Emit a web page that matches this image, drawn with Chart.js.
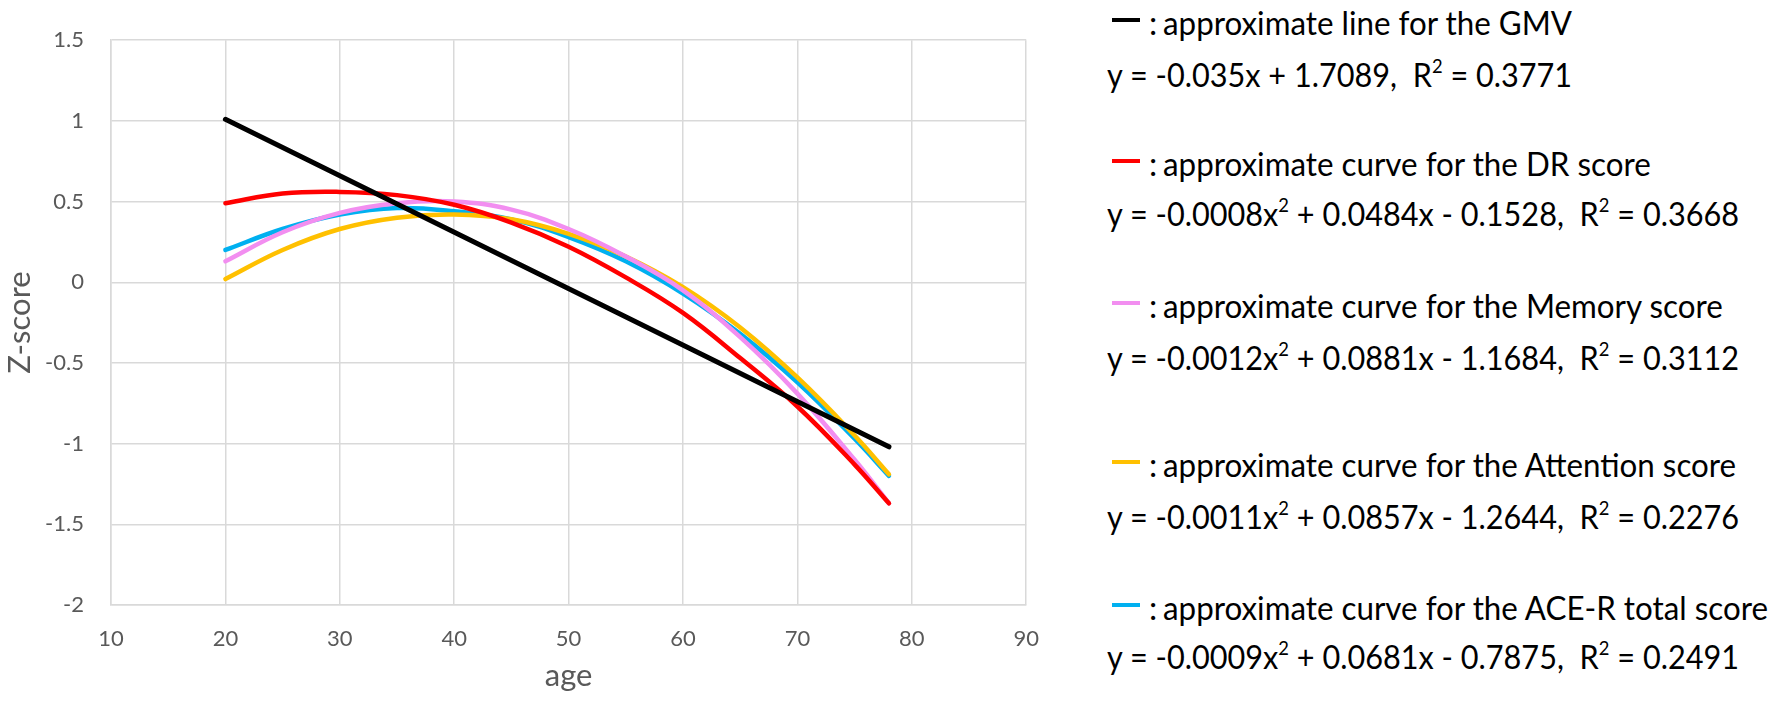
<!DOCTYPE html>
<html>
<head>
<meta charset="utf-8">
<script src="https://cdn.jsdelivr.net/npm/chart.js@4.4.1/dist/chart.umd.min.js"></script>
<style>
  html, body { margin: 0; padding: 0; background: #fff; }
  body { width: 1772px; height: 704px; position: relative; overflow: hidden; font-family: Lato, "Open Sans", sans-serif; }
  #wrap { position: absolute; left: 0; top: 0; width: 1060px; height: 704px; }
  .row { position: absolute; height: 40px; line-height: 40px; font-size: 33px; color: #000; white-space: nowrap; }
  .dash { position: absolute; left: 1112px; width: 28px; height: 4px; }
  .colon { position: absolute; left: 1149px; height: 40px; line-height: 40px; font-size: 33px; }
  .txt { display: inline-block; transform-origin: left center; }
  .eq sup { font-size: 0.6em; line-height: 0; vertical-align: 0.7em; }
</style>
</head>
<body>
<div id="wrap"><canvas id="trend" width="1060" height="704"></canvas></div>
<div id="legend"></div>
<script>
const ages = [20, 25, 30, 35, 40, 45, 50, 55, 60, 65, 70, 75, 78];
const gmvAges = [20, 78];
const gmv = [1.01, -1.02];
const drScore = [0.49, 0.55, 0.56, 0.54, 0.48, 0.37, 0.22, 0.03, -0.19, -0.47, -0.77, -1.13, -1.37];
const memoryScore = [0.13, 0.31, 0.43, 0.49, 0.50, 0.45, 0.33, 0.16, -0.05, -0.34, -0.69, -1.10, -1.37];
const attentionScore = [0.02, 0.20, 0.33, 0.40, 0.42, 0.39, 0.30, 0.16, -0.03, -0.28, -0.59, -0.95, -1.19];
const aceScore = [0.20, 0.33, 0.42, 0.46, 0.44, 0.39, 0.28, 0.13, -0.07, -0.32, -0.62, -0.97, -1.20];

const xTicks = [10, 20, 30, 40, 50, 60, 70, 80, 90];
const yTicks = [1.5, 1, 0.5, 0, -0.5, -1, -1.5, -2];

const seriesNames = ['GMV', 'DR score', 'Memory score', 'Attention score', 'ACE-R total score'];
const seriesColors = ['#000000', '#ff0000', '#f28ef0', '#ffc000', '#00b0f0'];
const legendLabels = [
  'approximate line for the GMV',
  'approximate curve for the DR score',
  'approximate curve for the Memory score',
  'approximate curve for the Attention score',
  'approximate curve for the ACE-R total score'
];
const legendEquations = [
  'y = -0.035x + 1.7089,&nbsp; R<sup>2</sup> = 0.3771',
  'y = -0.0008x<sup>2</sup> + 0.0484x - 0.1528,&nbsp; R<sup>2</sup> = 0.3668',
  'y = -0.0012x<sup>2</sup> + 0.0881x - 1.1684,&nbsp; R<sup>2</sup> = 0.3112',
  'y = -0.0011x<sup>2</sup> + 0.0857x - 1.2644,&nbsp; R<sup>2</sup> = 0.2276',
  'y = -0.0009x<sup>2</sup> + 0.0681x - 0.7875,&nbsp; R<sup>2</sup> = 0.2491'
];
// vertical centres of the label / equation lines
const legendLabelY = [22, 163, 305, 464, 607];
const legendEqY = [74, 213, 357, 516, 656];

const toPoints = (xs, ys) => xs.map((x, i) => ({ x: x, y: ys[i] }));

const buildLegend = () => {
  const box = document.querySelector('#legend');
  const labelSpans = [];
  const eqSpans = [];
  legendLabels.forEach((label, i) => {
    const dash = document.createElement('div');
    dash.className = 'dash';
    dash.style.top = (legendLabelY[i] - 4) + 'px';
    dash.style.background = seriesColors[i];
    box.appendChild(dash);

    const colon = document.createElement('div');
    colon.className = 'colon';
    colon.style.top = (legendLabelY[i] - 20) + 'px';
    colon.textContent = ':';
    box.appendChild(colon);

    const row = document.createElement('div');
    row.className = 'row';
    row.style.left = '1163px';
    row.style.top = (legendLabelY[i] - 20) + 'px';
    row.innerHTML = '<span class="txt">' + label + '</span>';
    box.appendChild(row);
    labelSpans.push(row.firstChild);

    const eq = document.createElement('div');
    eq.className = 'row eq';
    eq.style.left = '1107px';
    eq.style.top = (legendEqY[i] - 20) + 'px';
    eq.innerHTML = '<span class="txt">' + legendEquations[i] + '</span>';
    box.appendChild(eq);
    eqSpans.push(eq.firstChild);
  });
  // squeeze the text to the widths of the figure (Calibri is narrower than Lato)
  const labelScale = 605 / labelSpans[4].getBoundingClientRect().width;
  const eqScale = 632 / eqSpans[1].getBoundingClientRect().width;
  labelSpans.forEach(s => { s.style.transform = 'scaleX(' + labelScale + ')'; });
  eqSpans.forEach(s => { s.style.transform = 'scaleX(' + eqScale + ')'; });
};

const createChart = () => {
  const gridColor = '#d9d9d9';
  const tickFont = { family: 'Lato, "Open Sans", sans-serif', size: 22 };
  const titleFont = { family: 'Lato, "Open Sans", sans-serif', size: 31 };
  const seriesData = [toPoints(gmvAges, gmv), toPoints(ages, drScore), toPoints(ages, memoryScore),
    toPoints(ages, attentionScore), toPoints(ages, aceScore)];

  const ctx = document.querySelector('#trend');
  new Chart(ctx, {
    type: 'line',
    data: {
      datasets: seriesData.map((d, i) => ({
        label: seriesNames[i],
        data: d,
        borderColor: seriesColors[i],
        backgroundColor: seriesColors[i],
        borderWidth: i === 0 ? 5 : 4.5,
        borderCapStyle: 'round',
        pointRadius: 0,
        tension: 0.4,
        fill: false
      }))
    },
    options: {
      responsive: false,
      animation: false,
      devicePixelRatio: 1,
      layout: { padding: { top: 36, right: 14, bottom: 0, left: 0 } },
      plugins: { legend: { display: false }, tooltip: { enabled: false } },
      scales: {
        x: {
          type: 'linear',
          min: 10,
          max: 90,
          afterFit: (scale) => { scale.height = 99; },
          afterBuildTicks: (scale) => { scale.ticks = xTicks.map(v => ({ value: v })); },
          grid: { color: gridColor, lineWidth: 1.5, drawTicks: false },
          border: { color: gridColor, width: 1.5 },
          ticks: { color: '#595959', font: tickFont, padding: 21, maxRotation: 0 },
          title: { display: true, text: 'age', color: '#595959', font: titleFont, padding: { top: 0, bottom: 9 } }
        },
        y: {
          min: -2,
          max: 1.5,
          afterFit: (scale) => { scale.width = 111; },
          afterBuildTicks: (scale) => { scale.ticks = yTicks.map(v => ({ value: v })); },
          grid: { color: gridColor, lineWidth: 1.5, drawTicks: false },
          border: { color: gridColor, width: 1.5 },
          ticks: { color: '#595959', font: tickFont, padding: 27, callback: (v) => String(v) },
          title: { display: true, text: 'Z-score', color: '#595959', font: titleFont, padding: { top: 1, bottom: 0 } }
        }
      }
    }
  });
};

buildLegend();
createChart();
</script>
</body>
</html>
